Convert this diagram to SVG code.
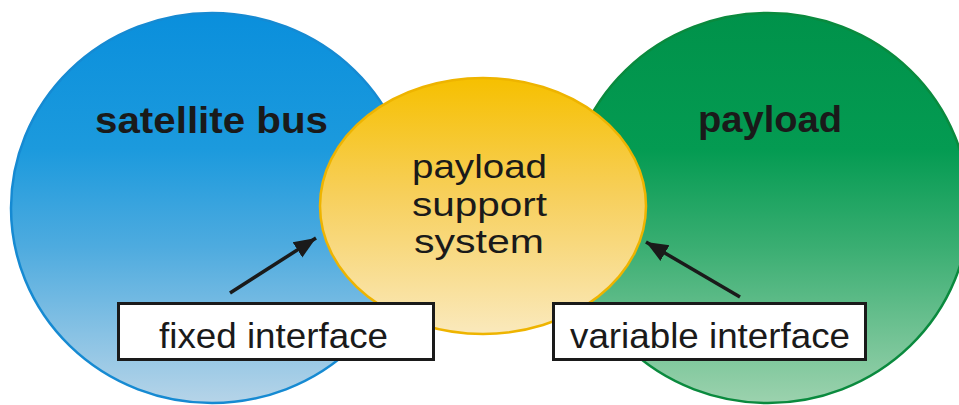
<svg xmlns="http://www.w3.org/2000/svg" width="959" height="405" viewBox="0 0 959 405">
  <defs>
    <linearGradient id="gBlue" x1="0" y1="0" x2="0" y2="1">
      <stop offset="0" stop-color="#0a8fdc"/>
      <stop offset="0.35" stop-color="#1c9add"/>
      <stop offset="0.6" stop-color="#4eabdf"/>
      <stop offset="1" stop-color="#b6d4e8"/>
    </linearGradient>
    <linearGradient id="gGreen" x1="0" y1="0" x2="0" y2="1">
      <stop offset="0" stop-color="#00924a"/>
      <stop offset="0.35" stop-color="#049b52"/>
      <stop offset="0.6" stop-color="#3aae72"/>
      <stop offset="1" stop-color="#9cd2ae"/>
    </linearGradient>
    <linearGradient id="gYellow" x1="0" y1="0" x2="0" y2="1">
      <stop offset="0" stop-color="#f6c000"/>
      <stop offset="0.45" stop-color="#f7cf5a"/>
      <stop offset="1" stop-color="#fae9bc"/>
    </linearGradient>
    <marker id="head" markerUnits="userSpaceOnUse" markerWidth="24" markerHeight="20" refX="22" refY="10" orient="auto">
      <path d="M0,1 L22,10 L0,19 Z" fill="#1a1a1a"/>
    </marker>
    <style>
      .bold { font-family: "Liberation Sans", Arial, sans-serif; font-weight: bold; font-size: 36px; fill: #1a1a1a; }
      .reg { font-family: "Liberation Sans", Arial, sans-serif; font-size: 34px; fill: #1a1a1a; }
      .lbl { font-family: "Liberation Sans", Arial, sans-serif; font-size: 35px; fill: #1a1a1a; }
      .box { fill: #ffffff; stroke: #1a1a1a; stroke-width: 3; }
      .arrow { stroke: #1a1a1a; stroke-width: 3.5; fill: none; marker-end: url(#head); }
    </style>
  </defs>

  <g id="satellite-bus">
    <ellipse cx="212" cy="208" rx="201" ry="195" fill="url(#gBlue)" stroke="#168ad2" stroke-width="2.5"/>
    <text class="bold" x="95" y="133" textLength="233" lengthAdjust="spacingAndGlyphs">satellite bus</text>
  </g>

  <g id="payload">
    <ellipse cx="768" cy="208" rx="201" ry="195" fill="url(#gGreen)" stroke="#0a8a3e" stroke-width="2.5"/>
    <text class="bold" x="698" y="132" textLength="144" lengthAdjust="spacingAndGlyphs">payload</text>
  </g>

  <g id="payload-support-system">
    <ellipse cx="483" cy="206" rx="163" ry="128" fill="url(#gYellow)" stroke="#eeb400" stroke-width="2.5"/>
    <text class="reg" x="412" y="178" textLength="135" lengthAdjust="spacingAndGlyphs">payload</text>
    <text class="reg" x="412" y="216" textLength="135" lengthAdjust="spacingAndGlyphs">support</text>
    <text class="reg" x="414" y="253" textLength="130" lengthAdjust="spacingAndGlyphs">system</text>
  </g>

  <g id="connectors">
    <line class="arrow" x1="230" y1="293" x2="316" y2="238"/>
    <line class="arrow" x1="740" y1="297" x2="646" y2="242"/>
  </g>

  <g id="fixed-interface">
    <rect class="box" x="118.5" y="303.5" width="315" height="56"/>
    <text class="lbl" x="159" y="348" textLength="229" lengthAdjust="spacingAndGlyphs">fixed interface</text>
  </g>

  <g id="variable-interface">
    <rect class="box" x="553.5" y="303.5" width="312" height="56"/>
    <text class="lbl" x="570" y="348" textLength="280" lengthAdjust="spacingAndGlyphs">variable interface</text>
  </g>
</svg>
